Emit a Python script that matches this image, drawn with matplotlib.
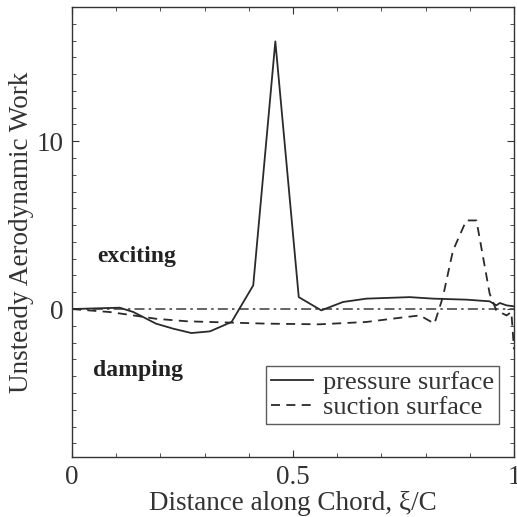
import matplotlib
matplotlib.use("Agg")
import matplotlib.pyplot as plt
from matplotlib.ticker import MultipleLocator

# data
x_pressure = [0.0, 0.108, 0.139, 0.19, 0.229, 0.27, 0.312, 0.361, 0.41, 0.46, 0.513,
              0.564, 0.613, 0.666, 0.764, 0.817, 0.892, 0.945, 0.96, 0.968, 0.983, 1.0]
y_pressure = [0.0, 0.08, -0.18, -0.87, -1.17, -1.43, -1.33, -0.77, 1.41, 15.95, 0.71,
              -0.08, 0.42, 0.62, 0.71, 0.62, 0.56, 0.46, 0.22, 0.36, 0.22, 0.16]

x_suction = [0.0, 0.086, 0.139, 0.19, 0.26, 0.361, 0.44, 0.56, 0.666, 0.742, 0.787,
             0.82, 0.839, 0.862, 0.892, 0.915, 0.945, 0.96, 0.983, 0.994, 1.0]
y_suction = [0.0, -0.18, -0.38, -0.58, -0.73, -0.81, -0.87, -0.91, -0.77, -0.52, -0.38,
             -0.87, 0.71, 3.49, 5.28, 5.28, 0.91, -0.08, -0.38, -0.18, -2.4]

series_labels = ["pressure surface", "suction surface"]
x_ticklabels = ["0", "0.5", "1"]
y_ticklabels = ["0", "10"]

plt.rcParams['font.family'] = ['Liberation Serif', 'DejaVu Serif']

fig = plt.figure(figsize=(5.17, 5.17), dpi=100)
ax = fig.add_axes([0.1393, 0.1166, 0.8549, 0.8699])

lc = '#2a2a2a'
ax.plot([0, 1], [0, 0], linestyle=(0, (6, 2.5, 1.5, 2.5)), color='#4a4a4a', lw=1.2)
ax.plot(x_pressure, y_pressure, color=lc, lw=1.3, label=series_labels[0])
ax.plot(x_suction, y_suction, color=lc, lw=1.3, linestyle=(0, (5, 3.5)), label=series_labels[1])

ax.set_xlim(0, 1)
ax.set_ylim(-8.8, 18)
ax.set_xticks([0, 0.5, 1])
ax.set_xticklabels(x_ticklabels)
ax.set_yticks([0, 10])
ax.set_yticklabels(y_ticklabels)
ax.xaxis.set_minor_locator(MultipleLocator(0.1))
ax.yaxis.set_minor_locator(MultipleLocator(1))
ax.tick_params(which='both', direction='in', top=True, right=True, labelsize=19.5,
               color='#333333', pad=6, labelcolor='#333333')
ax.tick_params(which='major', length=5)
ax.tick_params(which='minor', length=3)
for s in ax.spines.values():
    s.set_color('#333333')
    s.set_linewidth(1.0)

ax.set_xlabel("Distance along Chord, ξ/C", fontsize=19.5, color='#333333', labelpad=1)
ax.set_ylabel("Unsteady Aerodynamic Work", fontsize=19.5, color='#333333', labelpad=2)

ax.text(0.057, 3.14, "exciting", fontsize=17, fontweight='bold', va='center', ha='left',
        color='#222222')
ax.text(0.048, -3.65, "damping", fontsize=17, fontweight='bold', va='center', ha='left',
        color='#222222')

leg = ax.legend(loc='lower right', bbox_to_anchor=(0.966, 0.072), fontsize=19,
                frameon=True, fancybox=False, edgecolor='#333333', handlelength=1.6,
                handletextpad=0.35, borderpad=0.2, labelspacing=0.05, borderaxespad=0)
leg.get_frame().set_linewidth(1.0)
for t in leg.get_texts():
    t.set_color('#333333')

fig.savefig("out.png", dpi=100)
